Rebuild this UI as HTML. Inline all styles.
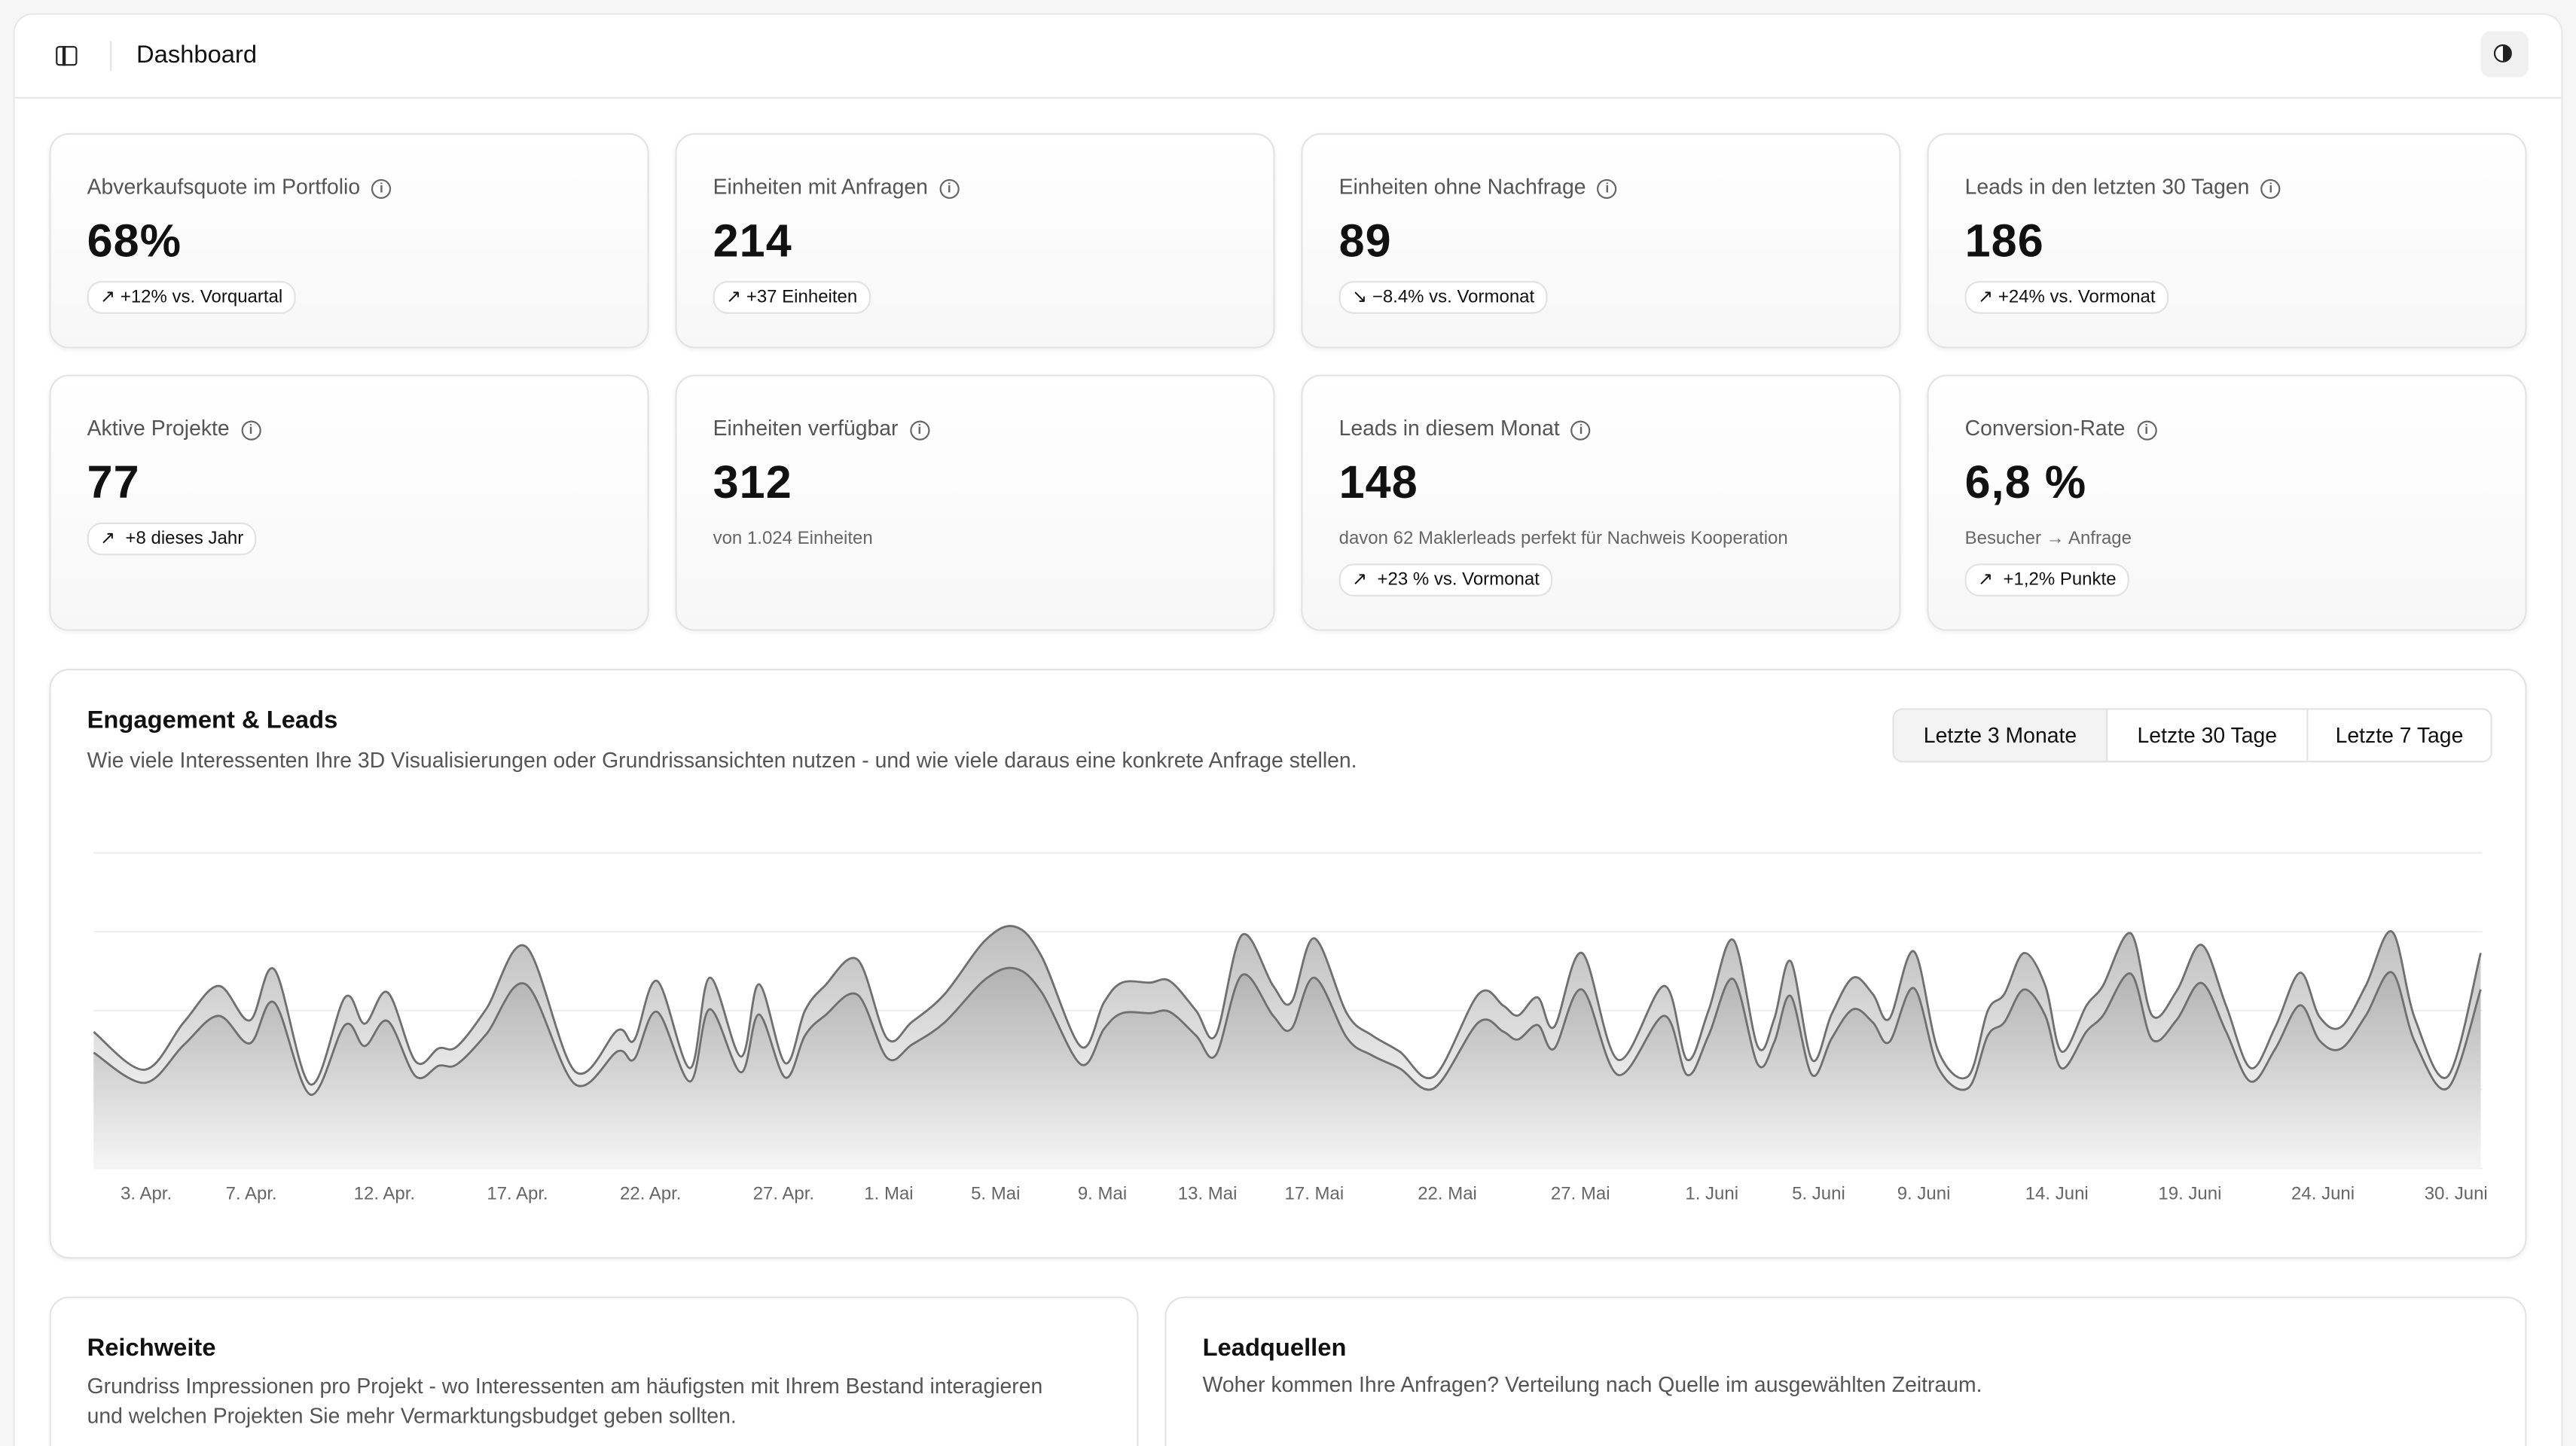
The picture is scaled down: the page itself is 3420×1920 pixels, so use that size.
<!DOCTYPE html>
<html><head><meta charset="utf-8">
<style>
html,body{margin:0;padding:0;width:3420px;height:1920px;overflow:hidden;background:#f6f6f6;}
#w{position:absolute;left:0;top:0;width:1568px;height:880px;overflow:hidden;transform-origin:0 0;transform:scale(2.1811,2.1818);font-family:"Liberation Sans",sans-serif;color:#111;background:#f6f6f6;}
.panel{position:absolute;left:8px;top:8px;width:1552px;height:872px;box-sizing:border-box;background:#fff;border:1px solid #e8e8e8;border-bottom:none;border-radius:12px 12px 0 0;}
.hdr{position:absolute;left:0;top:0;width:1550px;height:50px;border-bottom:1px solid #e6e6e6;}
.card{position:absolute;border:1px solid #e3e3e3;border-radius:12px;background:linear-gradient(#fff,#f7f7f7);box-shadow:0 1px 3px rgba(0,0,0,.06);box-sizing:border-box;}
.t{position:absolute;left:22px;font-size:13px;color:#555;white-space:nowrap;}
.i{display:inline-block;width:10px;height:10px;border:1.3px solid #666;border-radius:50%;font-size:8px;line-height:10px;text-align:center;color:#666;margin-left:7px;vertical-align:1px;font-weight:bold;}
.v{position:absolute;left:22px;font-size:28px;font-weight:bold;color:#111;letter-spacing:0.5px;}
.b{position:absolute;left:22px;height:18px;border:1px solid #e2e2e2;border-radius:9px;background:#fff;font-size:11px;line-height:18px;padding:0 7px;white-space:nowrap;color:#111;}
.s{position:absolute;left:22px;font-size:11px;color:#666;white-space:nowrap;}
.xl{position:absolute;top:721px;font-size:11px;color:#666;transform:translateX(-50%);white-space:nowrap;}
.bc{position:absolute;top:789px;height:91px;box-sizing:border-box;background:#fff;border:1px solid #e3e3e3;border-bottom:none;border-radius:12px 12px 0 0;}
</style></head><body><div id="w">
<div class="panel"><div class="hdr">
<div style="position:absolute;left:25px;top:19px;width:11px;height:10px;border:1.5px solid #222;border-radius:2px;"></div>
<div style="position:absolute;left:29px;top:19px;width:1.5px;height:12px;background:#222;"></div>
<div style="position:absolute;left:58px;top:16px;width:1px;height:18px;background:#e3e3e3;"></div>
<div style="position:absolute;left:74px;top:16px;font-size:15px;color:#111;">Dashboard</div>
<div style="position:absolute;left:1501px;top:10px;width:29px;height:28px;background:#f0f0f0;border-radius:6px;"><div style="position:absolute;left:8px;top:8px;width:9px;height:9px;border:1.5px solid #222;border-radius:50%;background:linear-gradient(90deg,#fff 50%,#222 50%);"></div></div>
</div></div>

<div class="card" style="left:30px;top:81px;width:365px;height:131px;"><div class="t" style="top:24px">Abverkaufsquote im Portfolio<span class="i">i</span></div><div class="v" style="top:49px">68%</div><div class="b" style="top:89px">↗ +12% vs. Vorquartal</div></div>
<div class="card" style="left:411px;top:81px;width:365px;height:131px;"><div class="t" style="top:24px">Einheiten mit Anfragen<span class="i">i</span></div><div class="v" style="top:49px">214</div><div class="b" style="top:89px">↗ +37 Einheiten</div></div>
<div class="card" style="left:792px;top:81px;width:365px;height:131px;"><div class="t" style="top:24px">Einheiten ohne Nachfrage<span class="i">i</span></div><div class="v" style="top:49px">89</div><div class="b" style="top:89px">↘ −8.4% vs. Vormonat</div></div>
<div class="card" style="left:1173px;top:81px;width:365px;height:131px;"><div class="t" style="top:24px">Leads in den letzten 30 Tagen<span class="i">i</span></div><div class="v" style="top:49px">186</div><div class="b" style="top:89px">↗ +24% vs. Vormonat</div></div>

<div class="card" style="left:30px;top:228px;width:365px;height:156px;"><div class="t" style="top:24px">Aktive Projekte<span class="i">i</span></div><div class="v" style="top:49px">77</div><div class="b" style="top:89px">↗ &nbsp;+8 dieses Jahr</div></div>
<div class="card" style="left:411px;top:228px;width:365px;height:156px;"><div class="t" style="top:24px">Einheiten verfügbar<span class="i">i</span></div><div class="v" style="top:49px">312</div><div class="s" style="top:93px">von 1.024 Einheiten</div></div>
<div class="card" style="left:792px;top:228px;width:365px;height:156px;"><div class="t" style="top:24px">Leads in diesem Monat<span class="i">i</span></div><div class="v" style="top:49px">148</div><div class="s" style="top:93px">davon 62 Maklerleads perfekt für Nachweis Kooperation</div><div class="b" style="top:114px">↗ &nbsp;+23 % vs. Vormonat</div></div>
<div class="card" style="left:1173px;top:228px;width:365px;height:156px;"><div class="t" style="top:24px">Conversion-Rate<span class="i">i</span></div><div class="v" style="top:49px">6,8 %</div><div class="s" style="top:93px">Besucher → Anfrage</div><div class="b" style="top:114px">↗ &nbsp;+1,2% Punkte</div></div>

<div class="card" style="left:30px;top:407px;width:1508px;height:359px;background:#fff;">
<div style="position:absolute;left:22px;top:22px;font-size:15px;font-weight:bold;">Engagement &amp; Leads</div>
<div style="position:absolute;left:22px;top:47px;font-size:13px;color:#555;">Wie viele Interessenten Ihre 3D Visualisierungen oder Grundrissansichten nutzen - und wie viele daraus eine konkrete Anfrage stellen.</div>
<div style="position:absolute;left:1121px;top:23px;width:363px;height:31px;border:1px solid #e2e2e2;border-radius:6px;font-size:13px;overflow:hidden;">
<div style="position:absolute;left:0;top:0;width:129px;height:31px;background:#f3f3f3;border-right:1px solid #e2e2e2;line-height:31px;text-align:center;">Letzte 3 Monate</div>
<div style="position:absolute;left:130px;top:0;width:121px;height:31px;border-right:1px solid #e2e2e2;line-height:31px;text-align:center;">Letzte 30 Tage</div>
<div style="position:absolute;left:252px;top:0;width:111px;height:31px;line-height:31px;text-align:center;">Letzte 7 Tage</div>
</div></div>

<svg id="ch" style="position:absolute;left:0;top:0" width="1568" height="880">
<defs>
<linearGradient id="g1" x1="0" y1="0" x2="0" y2="1"><stop offset="0" stop-color="#bdbdbd"/><stop offset="0.55" stop-color="#e6e6e6"/><stop offset="1" stop-color="#fafafa"/></linearGradient>
<linearGradient id="g2" x1="0" y1="0" x2="0" y2="1"><stop offset="0" stop-color="#b2b2b2"/><stop offset="0.4" stop-color="#cccccc"/><stop offset="1" stop-color="#f5f5f5"/></linearGradient>
</defs>
<g stroke="#efefef" stroke-width="1"><line x1="57" x2="1511" y1="519" y2="519"/><line x1="57" x2="1511" y1="567" y2="567"/><line x1="57" x2="1511" y1="615" y2="615"/><line x1="57" x2="1511" y1="663" y2="663"/><line x1="57" x2="1511" y1="711" y2="711"/></g>
<path id="a1" fill="url(#g1)"/><path id="a2" fill="url(#g2)"/>
<path id="l1" fill="none" stroke="#707070" stroke-width="1.3"/><path id="l2" fill="none" stroke="#707070" stroke-width="1.3"/>
</svg>
<div class="xl" style="left:89px">3. Apr.</div><div class="xl" style="left:153px">7. Apr.</div><div class="xl" style="left:234px">12. Apr.</div><div class="xl" style="left:315px">17. Apr.</div><div class="xl" style="left:396px">22. Apr.</div><div class="xl" style="left:477px">27. Apr.</div><div class="xl" style="left:541px">1. Mai</div><div class="xl" style="left:606px">5. Mai</div><div class="xl" style="left:671px">9. Mai</div><div class="xl" style="left:735px">13. Mai</div><div class="xl" style="left:800px">17. Mai</div><div class="xl" style="left:881px">22. Mai</div><div class="xl" style="left:962px">27. Mai</div><div class="xl" style="left:1042px">1. Juni</div><div class="xl" style="left:1107px">5. Juni</div><div class="xl" style="left:1171px">9. Juni</div><div class="xl" style="left:1252px">14. Juni</div><div class="xl" style="left:1333px">19. Juni</div><div class="xl" style="left:1414px">24. Juni</div><div class="xl" style="left:1495px">30. Juni</div>

<div class="bc" style="left:30px;width:663px;">
<div style="position:absolute;left:22px;top:22px;font-size:15px;font-weight:bold;">Reichweite</div>
<div style="position:absolute;left:22px;top:45px;font-size:13px;color:#555;line-height:18px;white-space:nowrap;">Grundriss Impressionen pro Projekt - wo Interessenten am häufigsten mit Ihrem Bestand interagieren<br>und welchen Projekten Sie mehr Vermarktungsbudget geben sollten.</div></div>
<div class="bc" style="left:709px;width:829px;">
<div style="position:absolute;left:22px;top:22px;font-size:15px;font-weight:bold;">Leadquellen</div>
<div style="position:absolute;left:22px;top:45px;font-size:13px;color:#555;">Woher kommen Ihre Anfragen? Verteilung nach Quelle im ausgewählten Zeitraum.</div></div>
</div>
<script>
var P=[[57,628],[88,651],[112,622],[133,600],[152,621],[167,590],[189,660],[210,607],[222,623],[236,604],[253,646],[267,638],[278,637],[296,614],[320,576],[350,652],[376,627],[386,633],[400,597],[420,650],[432,595],[451,643],[462,599],[478,647],[490,615],[502,600],[522,584],[540,632],[555,622],[575,605],[600,572],[618,564],[634,582],[658,637],[672,610],[683,598],[700,598],[712,597],[728,615],[740,630],[756,569],[775,600],[786,610],[800,571],[820,617],[835,630],[852,640],[873,655],[900,605],[915,612],[924,618],[936,607],[946,625],[963,580],[985,645],[1013,600],[1027,645],[1040,615],[1055,572],[1070,637],[1080,620],[1090,585],[1103,645],[1115,617],[1128,595],[1140,605],[1150,620],[1165,579],[1180,640],[1198,655],[1210,615],[1220,605],[1232,580],[1245,600],[1255,640],[1270,612],[1280,600],[1297,568],[1310,618],[1325,603],[1340,575],[1355,612],[1370,650],[1385,625],[1400,592],[1412,619],[1425,625],[1440,600],[1456,567],[1470,620],[1490,655],[1510,580]];
var Q=P.map(function(p){return [p[0],711-((711-p[1])*0.8+4)];});
function cr(pts){var d="M"+pts[0][0]+","+pts[0][1];for(var i=0;i<pts.length-1;i++){var p0=pts[i-1]||pts[i],p1=pts[i],p2=pts[i+1],p3=pts[i+2]||p2;var c1x=p1[0]+(p2[0]-p0[0])/6,c1y=p1[1]+(p2[1]-p0[1])/6,c2x=p2[0]-(p3[0]-p1[0])/6,c2y=p2[1]-(p3[1]-p1[1])/6;d+=" C"+c1x.toFixed(1)+","+c1y.toFixed(1)+" "+c2x.toFixed(1)+","+c2y.toFixed(1)+" "+p2[0]+","+p2[1];}return d;}
var d1=cr(P),d2=cr(Q);
document.getElementById('l1').setAttribute('d',d1);document.getElementById('l2').setAttribute('d',d2);
document.getElementById('a1').setAttribute('d',d1+" L1510,711 L57,711 Z");
document.getElementById('a2').setAttribute('d',d2+" L1510,711 L57,711 Z");
</script>
</div></body></html>
